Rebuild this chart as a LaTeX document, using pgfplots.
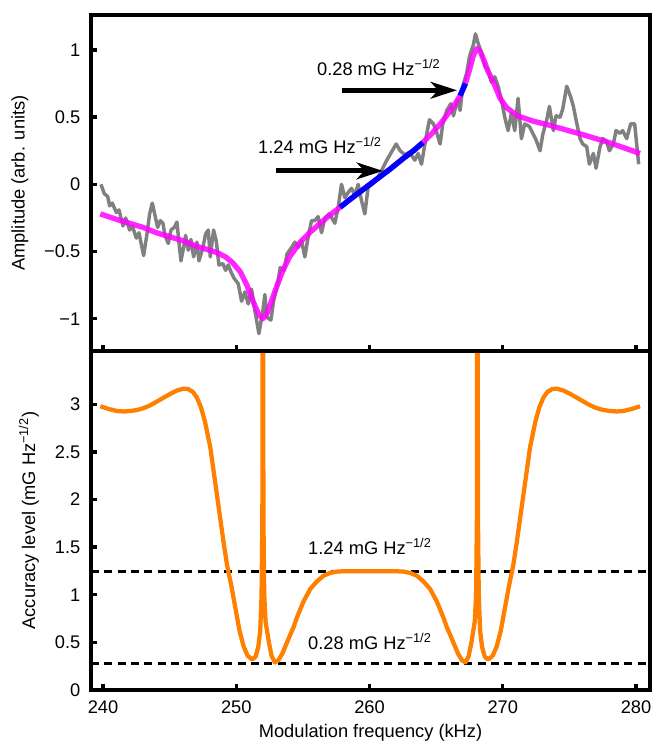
\documentclass[border=0pt]{standalone}
\usepackage{fontspec}
\setmainfont{Liberation Sans}
\usepackage{pgfplots}
\pgfplotsset{compat=1.18}
\usetikzlibrary{arrows.meta}

\definecolor{trace}{RGB}{128,128,128}
\definecolor{fitmag}{RGB}{255,0,255}
\definecolor{fitblue}{RGB}{0,0,255}
\definecolor{accor}{RGB}{255,128,0}

\pgfplotsset{
  panel/.style={
    scale only axis, width=419.25pt,
    xmin=239.1, xmax=281.05,
    axis line style={line width=2.5pt},
    tick style={line width=2.5pt, black},
    major tick length=4.5pt,
    tick align=inside,
    xtick={240,250,...,280},
    xtick pos=left, ytick pos=left,
    /pgf/number format/assume math mode=true,
    yticklabel style={xshift=-4.5pt},
    xticklabel style={yshift=-4.5pt},
  },
}
\tikzset{
  bigarrow/.style={line width=3.75pt,
    -{Stealth[length=20pt,width=13pt,inset=6pt,line width=0pt]}},
}

\begin{document}
\begin{tikzpicture}[font=\fontsize{13.7}{16}\selectfont]
\useasboundingbox (-68.25pt,-42.75pt) rectangle (423pt,517.5pt);

% ---- panel b: accuracy level
\begin{axis}[panel, name=bot, at={(0,0)}, anchor=south west,
    height=254.25pt,
    ymin=0, ymax=3.56,
    ytick={0,0.5,...,3},
    xlabel={Modulation frequency (kHz)},
    xlabel style={at={(axis description cs:0.5,0)}, anchor=center, yshift=-32pt},
    ylabel={Accuracy level (mG Hz\textsuperscript{−1/2})},
    ylabel style={at={(axis description cs:-0.111,0.5)}, anchor=center},
]
\addplot[black, line width=2.2pt, dash pattern=on 6pt off 4pt] coordinates {(239.1,1.24) (281.05,1.24)};
\addplot[black, line width=2.2pt, dash pattern=on 6pt off 4pt] coordinates {(239.1,0.28) (281.05,0.28)};
\addplot[accor, line width=3.2pt, line join=round] coordinates {
(239.80,2.98) (240.45,2.95) (241.05,2.93) (241.55,2.925) (242.05,2.93) (242.55,2.94)
(243.05,2.96) (243.55,2.99) (244.05,3.03) (244.55,3.07)
(245.05,3.11) (245.55,3.145) (246.05,3.165) (246.4,3.16) (246.75,3.13)
(247.05,3.07) (247.35,2.97) (247.65,2.82) (248.05,2.55) (248.35,2.25) (248.75,1.85)
(249.05,1.55) (249.30,1.32) (249.65,1.08) (249.95,0.85) (250.25,0.62)
(250.55,0.46) (250.85,0.36) (251.20,0.32) (251.45,0.35) (251.65,0.45)
(251.80,0.62) (251.90,1.00) (251.96,1.80) (252.00,6.00) (252.04,1.80)
(252.10,1.00) (252.20,0.72) (252.45,0.50) (252.65,0.36) (252.90,0.29)
(253.15,0.31) (253.45,0.38) (253.75,0.48) (254.05,0.58) (254.30,0.66)
(254.55,0.76) (255.05,0.93) (255.55,1.06) (256.05,1.14) (256.55,1.20)
(257.05,1.23) (257.55,1.243) (258.05,1.247) (260.05,1.247)
(262.05,1.247) (262.55,1.243) (263.05,1.23) (263.55,1.20) (264.05,1.14) (264.55,1.06)
(265.05,0.93) (265.55,0.76) (265.80,0.66) (266.05,0.58) (266.35,0.48)
(266.65,0.38) (266.95,0.31) (267.20,0.29) (267.45,0.36) (267.65,0.50)
(267.90,0.72) (268.00,1.00) (268.06,1.80) (268.10,6.00) (268.14,1.80)
(268.20,1.00) (268.30,0.62) (268.45,0.45) (268.65,0.35) (268.90,0.32)
(269.25,0.36) (269.55,0.46) (269.85,0.62) (270.15,0.85) (270.45,1.08)
(270.80,1.32) (271.05,1.55) (271.35,1.85) (271.75,2.25) (272.05,2.55)
(272.45,2.82) (272.75,2.97) (273.05,3.07) (273.35,3.13) (273.7,3.16)
(274.05,3.165) (274.55,3.145) (275.05,3.11) (275.55,3.07) (276.05,3.03)
(276.55,2.99) (277.05,2.96) (277.55,2.94) (278.05,2.93) (278.55,2.925)
(279.05,2.93) (279.65,2.95) (280.30,2.98)
};
\node[anchor=base west, inner sep=0pt] at (axis cs:255.38,1.424) {1.24 mG Hz\textsuperscript{−1/2}};
\node[anchor=base west, inner sep=0pt] at (axis cs:255.38,0.427) {0.28 mG Hz\textsuperscript{−1/2}};
\node[font=\fontsize{19}{22}\bfseries\selectfont] at (axis description cs:-0.128,0.922) {b};
\end{axis}

% ---- panel a: amplitude
\begin{axis}[panel, name=top, at={(0,254.25pt)}, anchor=south west,
    height=252pt,
    ymin=-1.24, ymax=1.26,
    ytick={-1,-0.5,0,0.5,1},
    yticklabels={−1,−0.5,0,0.5,1},
    xticklabels={},
    ylabel={Amplitude (arb. units)},
    ylabel style={at={(axis description cs:-0.127,0.5)}, anchor=center},
]
\addplot[trace, line width=2.6pt, line join=round] coordinates {
(239.85,0.00) (240.1,-0.07) (240.35,-0.09) (240.5,-0.16) (240.7,-0.14)
(241.0,-0.21) (241.2,-0.19) (241.5,-0.31) (241.7,-0.25) (242.0,-0.34)
(242.2,-0.31) (242.5,-0.40) (242.7,-0.36) (243.05,-0.53) (243.3,-0.37)
(243.5,-0.22) (243.7,-0.14) (243.9,-0.23) (244.1,-0.32) (244.3,-0.27)
(244.5,-0.29) (244.65,-0.38) (244.9,-0.44) (245.1,-0.34) (245.35,-0.32)
(245.55,-0.28) (245.7,-0.43) (245.85,-0.57) (246.05,-0.47) (246.2,-0.38)
(246.4,-0.49) (246.6,-0.41) (246.8,-0.54) (247.05,-0.43) (247.2,-0.57)
(247.5,-0.47) (247.7,-0.37) (247.9,-0.34) (248.05,-0.54) (248.3,-0.34)
(248.5,-0.42) (248.7,-0.60) (249.0,-0.59) (249.2,-0.64) (249.4,-0.60)
(249.6,-0.65) (249.85,-0.70) (250.15,-0.74) (250.4,-0.87) (250.65,-0.80)
(250.9,-0.89) (251.15,-0.78) (251.4,-0.94) (251.7,-1.11) (252.0,-0.94)
(252.15,-0.82) (252.3,-0.99) (252.6,-1.01) (252.8,-0.87) (253.1,-0.74)
(253.3,-0.62) (253.6,-0.64) (253.8,-0.52) (254.15,-0.47) (254.4,-0.43)
(254.65,-0.47) (254.9,-0.42) (255.15,-0.54) (255.4,-0.39) (255.65,-0.27)
(255.9,-0.27) (256.15,-0.24) (256.4,-0.36) (256.65,-0.25) (257.0,-0.22)
(257.4,-0.29) (257.65,-0.17) (257.9,0.00) (258.15,-0.10) (258.4,-0.06)
(258.65,-0.03) (258.9,-0.08) (259.15,0.00) (259.4,-0.12) (259.65,-0.22)
(259.9,-0.02) (260.2,0.00) (260.5,0.03) (260.9,0.10) (261.3,0.18)
(261.65,0.24) (262.0,0.30) (262.3,0.25) (262.65,0.22) (263.0,0.24)
(263.4,0.18) (263.65,0.23) (263.9,0.15) (264.3,0.38) (264.5,0.48)
(264.8,0.45) (265.0,0.40) (265.3,0.30) (265.5,0.45) (265.8,0.55)
(266.1,0.60) (266.3,0.51) (266.6,0.63) (266.8,0.55) (267.0,0.73)
(267.3,0.83) (267.5,0.95) (267.8,1.04) (267.95,1.12) (268.15,1.05)
(268.4,0.98) (268.65,0.88) (268.9,0.85) (269.15,0.76) (269.4,0.80)
(269.65,0.73) (269.9,0.63) (270.15,0.50) (270.4,0.40) (270.65,0.53)
(270.9,0.40) (271.15,0.64) (271.4,0.34) (271.65,0.45) (272.0,0.43)
(272.3,0.37) (272.5,0.33) (272.8,0.25) (273.0,0.37) (273.3,0.48)
(273.5,0.58) (273.8,0.40) (274.0,0.51) (274.3,0.50) (274.5,0.56)
(274.8,0.73) (275.1,0.65) (275.3,0.58) (275.5,0.48) (275.8,0.34)
(276.0,0.30) (276.3,0.28) (276.5,0.15) (276.8,0.23) (277.0,0.12)
(277.3,0.28) (277.5,0.34) (277.8,0.32) (278.0,0.25) (278.3,0.30)
(278.5,0.40) (278.8,0.38) (279.0,0.40) (279.3,0.34) (279.6,0.45)
(279.9,0.45) (280.0,0.35) (280.2,0.15)
};
\addplot[fitmag, opacity=0.85, line width=4pt, line join=round] coordinates {
(239.8,-0.22) (241,-0.26) (242,-0.29) (243,-0.32) (244,-0.36) (245,-0.39)
(246,-0.42) (247,-0.46) (248,-0.49) (248.6,-0.51) (249.2,-0.54) (249.7,-0.58)
(250.3,-0.65) (250.8,-0.75) (251.3,-0.88) (251.7,-0.97) (252.0,-1.00)
(252.3,-0.96) (252.6,-0.88) (253.0,-0.77) (253.5,-0.64) (254.0,-0.54)
(254.8,-0.43) (255.5,-0.36) (256.3,-0.29) (257.0,-0.23) (257.8,-0.17)
(258.5,-0.115) (259.5,-0.04) (260.5,0.035) (261.5,0.11) (262.5,0.19)
(263.3,0.25) (264.0,0.31) (264.7,0.38) (265.4,0.46) (266.0,0.54)
(266.5,0.61) (266.8,0.66) (267.2,0.75) (267.5,0.85) (267.8,0.96)
(268.05,1.01) (268.3,0.99) (268.6,0.92) (268.9,0.84) (269.3,0.76)
(269.8,0.64) (270.3,0.57) (271.1,0.51) (272.3,0.47) (273.5,0.44)
(276,0.37) (278,0.31) (280.3,0.23)
};
\addplot[fitblue, line width=4pt] coordinates {
(257.8,-0.17) (258.5,-0.115) (259.5,-0.04) (260.5,0.035) (261.5,0.11)
(262.5,0.19) (263.3,0.25) (264.0,0.31)
};
\addplot[fitblue, line width=4pt] coordinates {(266.8,0.66) (267.2,0.75)};
\draw[bigarrow] (axis cs:257.9,0.70) -- (axis cs:266.55,0.70);
\draw[bigarrow] (axis cs:253.0,0.10) -- (axis cs:261.0,0.10);
\node[anchor=base west, inner sep=0pt] at (axis cs:256.05,0.813) {0.28 mG Hz\textsuperscript{−1/2}};
\node[anchor=base west, inner sep=0pt] at (axis cs:251.63,0.229) {1.24 mG Hz\textsuperscript{−1/2}};
\node[font=\fontsize{19}{22}\bfseries\selectfont] at (axis description cs:-0.13,0.97) {a};
\end{axis}
\end{tikzpicture}
\end{document}
